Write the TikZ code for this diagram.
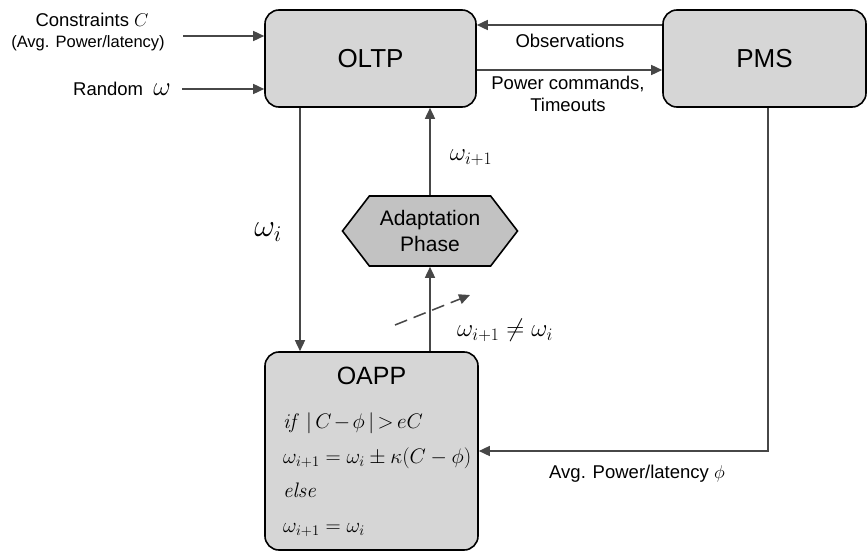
\documentclass[tikz,border=0pt]{standalone}
\usepackage{fix-cm}
\usepackage[no-math]{fontspec}
\usepackage{amsmath}
\usepackage{amssymb}
\setmainfont{Liberation Sans}
\usetikzlibrary{arrows.meta}
\usetikzlibrary{positioning}
\usetikzlibrary{shapes.symbols}
\tikzset{block/.style = {draw, line width = 1.6, fill = boxgray, rounded corners = 14, inner sep = 0}}
\tikzset{flow/.style = {draw = linegray, line width = 1.5, -{Triangle[length = 11, width = 10]}}}
\tikzset{lbl/.style = {inner sep = 0, font = \fontsize{18.5}{22}\selectfont}}
\definecolor{boxgray}{rgb}{0.84, 0.84, 0.84}
\definecolor{hexgray}{rgb}{0.76, 0.76, 0.76}
\definecolor{linegray}{rgb}{0.28, 0.28, 0.28}

\begin{document}
\begin{tikzpicture}[x = 1pt, y = -1pt]
      \useasboundingbox (0, 0) rectangle (868, 554);

      % the three blocks
      \node (oltp) [block, minimum width = 211, minimum height = 97,
        font = \fontsize{26}{30}\selectfont] at (370.5, 58.5) {OLTP};
      \node (pms) [block, minimum width = 203, minimum height = 97,
        font = \fontsize{26}{30}\selectfont] at (764.5, 58.5) {PMS};
      \node (oapp) [block, minimum width = 213, text height = 32, text depth = 166,
        font = \fontsize{25}{30}\selectfont] at (371.5, 451) {OAPP};
      \node (oapprule) [inner sep = 0, anchor = west, align = left,
        font = \fontsize{21}{34.5}\selectfont] at (283, 475) {%
        \medmuskip=2mu\relax\thickmuskip=3mu\relax
        $\mathit{if}\ |\,C-\phi\,|>eC$\\
        $\omega_{i+1}=\omega_i\pm\kappa(C-\phi)$\\
        $\mathit{else}$\\
        $\omega_{i+1}=\omega_i$};

      \node (adapt) [shape = signal, signal to = west and east, signal pointer angle = 105,
        draw, line width = 1.6, fill = hexgray, minimum width = 175, minimum height = 70,
        inner sep = 0, align = center, font = \fontsize{21}{26}\selectfont]
        at (430, 231) {Adaptation\\Phase};

      % inputs on the left
      \node (constr) [lbl, align = center] at (92, 20) {Constraints $C$};
      \node (constr2) [lbl, font = \fontsize{16.5}{20}\selectfont] at (88, 43) {(Avg. Power/latency)};
      \node (random) [lbl, anchor = east] at (171, 89) {Random \ {\fontsize{27}{30}\selectfont$\omega$}};
      \coordinate (cin) at (183, 36);
      \coordinate (rin) at (182, 89);
      \draw [flow] (cin) -- (cin -| oltp.west);
      \draw [flow] (rin) -- (rin -| oltp.west);

      % OLTP <-> PMS
      \draw [flow] ([yshift = 33.5pt] pms.west) -- ([yshift = 33.5pt] oltp.east);
      \draw [flow] ([yshift = -11.5pt] oltp.east) -- ([yshift = -11.5pt] pms.west);
      \node (obs) [lbl] at (570, 41) {Observations};
      \node (cmd) [lbl, align = center] at (568, 94) {Power commands,\\Timeouts};

      % loop through the adaptation phase
      \draw [flow] ([xshift = -70.5pt] oltp.south) -- ([xshift = -70.5pt] oltp.south |- oapp.north);
      \draw [flow] (adapt.north) -- (adapt.north |- oltp.south);
      \draw [flow] (adapt.south |- oapp.north) -- (adapt.south);
      \coordinate (dstart) at (395, 325);
      \coordinate (dend) at (470, 295);
      \draw [flow, dash pattern = on 13 off 7] (dstart) -- (dend);
      \node (wi) [inner sep = 0, font = \fontsize{32}{36}\selectfont] at (268, 232) {$\omega_i$};
      \node (wnext) [inner sep = 0, font = \fontsize{25}{28}\selectfont] at (471, 158) {$\omega_{i+1}$};
      \node (wneq) [inner sep = 0, font = \fontsize{25}{28}\selectfont] at (505, 330)
        {$\omega_{i+1}\neq\omega_i$};

      % feedback from PMS
      \draw [flow] ([xshift = 3.5pt] pms.south) |- (oapp.east);
      \node (avg) [lbl] at (637, 474) {Avg. Power/latency $\phi$};
\end{tikzpicture}
\end{document}
